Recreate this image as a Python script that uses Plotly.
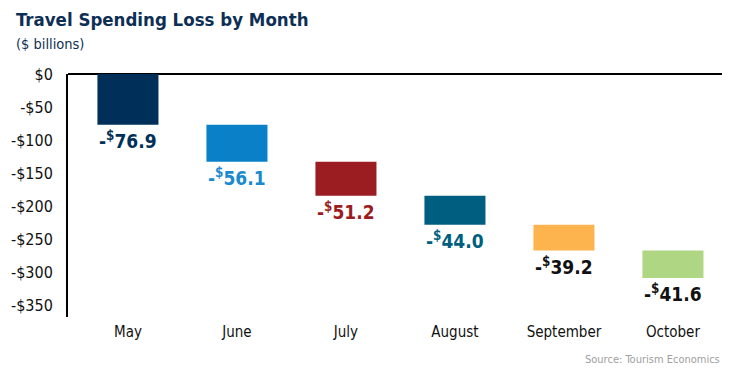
import plotly.graph_objects as go

months = ["May", "June", "July", "August", "September", "October"]
losses = [76.9, 56.1, 51.2, 44.0, 39.2, 41.6]
bar_colors = ["#00305a", "#0a80c8", "#9c1d21", "#005f80", "#fdb44e", "#afd683"]
label_colors = ["#00305a", "#1a8ad0", "#9c1d21", "#005f80", "#111111", "#111111"]
tick_vals = [0, -50, -100, -150, -200, -250, -300, -350]
tick_text = ["$0", "-$50", "-$100", "-$150", "-$200", "-$250", "-$300", "-$350"]

FONT = "DejaVu Sans Condensed, Liberation Sans Narrow, Roboto, sans-serif"

bases = []
run = 0.0
for v in losses:
    bases.append(run)
    run -= v

fig = go.Figure()
fig.add_trace(go.Bar(
    x=months, y=[-v for v in losses], base=bases,
    marker=dict(color=bar_colors, line=dict(width=0)),
    width=0.56, hoverinfo="skip",
))

for m, v, b, c in zip(months, losses, bases, label_colors):
    fig.add_annotation(
        x=m, y=b - v, xref="x", yref="y",
        text=f"-<sup>$</sup>{v:.1f}", showarrow=False,
        yanchor="top", yshift=-1,
        font=dict(family=FONT, size=19, color=c, weight="bold"),
    )

fig.add_annotation(
    text="<b>Travel Spending Loss by Month</b>", xref="paper", yref="paper",
    x=-0.083, y=1.0, xanchor="left", yanchor="bottom", yshift=42, showarrow=False,
    font=dict(family=FONT, size=18.5, color="#0e2f55"),
)
fig.add_annotation(
    text="($ billions)", xref="paper", yref="paper",
    x=-0.083, y=1.0, xanchor="left", yanchor="bottom", yshift=20, showarrow=False,
    font=dict(family=FONT, size=14.5, color="#0e2f55"),
)
fig.add_annotation(
    text="Source: Tourism Economics", xref="paper", yref="paper",
    x=1.0, y=0, xanchor="right", yanchor="top", yshift=-34, showarrow=False,
    font=dict(family=FONT, size=11, color="#a0a0a0"),
)

fig.update_layout(
    width=739, height=383,
    margin=dict(l=68, r=17, t=74, b=66),
    plot_bgcolor="white", paper_bgcolor="white",
    showlegend=False,
    font=dict(family=FONT, color="#111111"),
)
fig.update_xaxes(
    range=[-0.55, 5.45], showgrid=False, showline=False, zeroline=False,
    ticks="", tickfont=dict(family=FONT, size=15, color="#111111"),
    ticklabelstandoff=4,
)
fig.update_yaxes(
    range=[-368, 0], tickvals=tick_vals, ticktext=tick_text,
    showgrid=False, zeroline=True, zerolinecolor="black", zerolinewidth=2,
    showline=True, linecolor="black", linewidth=2,
    ticks="", tickfont=dict(family=FONT, size=16, color="#111111"),
    ticklabelstandoff=10,
)

fig.write_html("out.html", config={"displayModeBar": False},
               post_script="document.body.style.margin='0';document.body.style.padding='0';")
